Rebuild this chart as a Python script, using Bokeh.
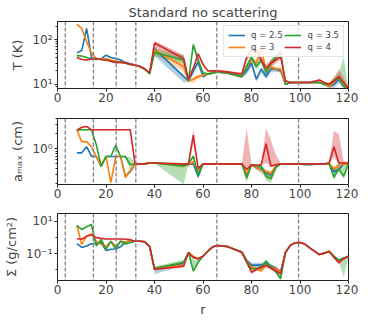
import numpy as np
from bokeh.plotting import figure
from bokeh.models import Range1d, FixedTicker, Span, Legend, LegendItem
from bokeh.layouts import column
from bokeh.embed import file_html
from bokeh.resources import INLINE

# ---------------- data ----------------
R = [8, 10, 12, 14, 16, 18, 20, 22,
     24, 26, 28, 30, 32, 34, 36, 38,
     40, 52, 54, 56, 58, 60, 62, 64,
     66, 70, 76, 78, 80, 82, 84, 86,
     88, 90, 92, 94, 96, 98, 100, 102,
     104, 108, 110, 112, 114, 116, 118, 120]

Q_LABELS = ["q = 2.5", "q = 3", "q = 3.5", "q = 4"]
GAPS = [3.2, 14.8, 24.2, 32.3, 65.7, 99.4]
X_TICKS = [0, 20, 40, 60, 80, 100, 120]

# Temperature (K)
T_blue = [51, 57, 178, 40, 36, 37, 45, 40,
          38, 35, 31, 29, 27, 25, 22, 18,
          62, 15, 12, 20, 32, 15, 17, 18,
          19, 18, 15, 20, 30, 13, 22, 15,
          22, 22, 20, 10, 11, 11, 11, 11,
          11, 11, 10, 9, 10, 13, 9, 8]
T_orange = [219, 178, 90, 50, 38, 36, 38, 35,
            33, 32, 30, 28, 27, 25, 22, 18,
            58, 25, 12, 13, 15, 16, 17, 18,
            19, 18, 15, 25, 35, 30, 65, 20,
            25, 22, 22, 10, 11, 11, 11, 11,
            11, 11, 10, 9, 11, 15, 10, 8]
T_green = [44, 43, 40, 37, 38, 36, 35, 33,
           31, 31, 30, 28, 27, 25, 22, 17,
           52, 35, 12, 78, 35, 18, 17, 18,
           19, 18, 15, 25, 40, 25, 35, 18,
           30, 40, 55, 10, 11, 11, 11, 11,
           11, 11, 10, 10, 12, 14, 9, 8]
T_red = [40, 36, 35, 37, 38, 36, 35, 33,
         31, 31, 30, 28, 27, 25, 22, 18,
         84, 38, 13, 23, 48, 28, 20, 20,
         20, 19, 17, 40, 59, 59, 35, 23,
         30, 35, 42, 12, 11, 11, 11, 11,
         11, 12.5, 11, 10, 12, 15, 11, 8]
# band factors (lower = value / lo, upper = value * hi)
T_blue_lo = [1.02]*16 + [1.45, 1.35, 1.08, 1.2, 1.25, 1.1, 1.05, 1.05] + [1.05, 1.05, 1.08, 1.2, 1.25, 1.15, 1.2, 1.15] + [1.2, 1.15, 1.1, 1.05, 1.04, 1.04, 1.04, 1.04] + [1.04, 1.04, 1.05, 1.1, 1.2, 1.25, 1.1, 1.04]
T_blue_hi = [1.02]*16 + [1.1, 1.1, 1.05, 1.1, 1.1, 1.05, 1.05, 1.05] + [1.05, 1.05, 1.08, 1.1, 1.1, 1.1, 1.1, 1.1] + [1.1, 1.1, 1.1, 1.05, 1.04, 1.04, 1.04, 1.04] + [1.04, 1.04, 1.05, 1.1, 1.1, 1.1, 1.1, 1.04]
T_orange_lo = [1.02]*16 + [1.25, 1.3, 1.08, 1.2, 1.15, 1.1, 1.05, 1.05] + [1.05, 1.05, 1.08, 1.2, 1.2, 1.2, 1.25, 1.2] + [1.2, 1.15, 1.1, 1.05, 1.04, 1.04, 1.04, 1.04] + [1.04, 1.04, 1.05, 1.1, 1.15, 1.2, 1.1, 1.04]
T_orange_hi = [1.02]*16 + [1.2, 1.25, 1.05, 1.1, 1.1, 1.05, 1.05, 1.05] + [1.05, 1.05, 1.08, 1.15, 1.15, 1.15, 1.1, 1.15] + [1.15, 1.1, 1.1, 1.05, 1.04, 1.04, 1.04, 1.04] + [1.04, 1.04, 1.05, 1.1, 1.1, 1.1, 1.1, 1.04]
T_green_lo = [1.02]*16 + [1.2, 1.2, 1.08, 1.2, 1.25, 1.1, 1.05, 1.05] + [1.05, 1.05, 1.08, 1.2, 1.2, 1.2, 1.2, 1.2] + [1.2, 1.2, 1.15, 1.05, 1.04, 1.04, 1.04, 1.04] + [1.04, 1.04, 1.05, 1.1, 1.1, 1.1, 1.05, 1.04]
T_green_hi = [1.02]*16 + [1.2, 1.3, 1.05, 1.05, 1.2, 1.1, 1.05, 1.05] + [1.05, 1.05, 1.08, 1.2, 1.2, 1.2, 1.2, 1.2] + [1.2, 1.2, 1.1, 1.05, 1.04, 1.04, 1.04, 1.04] + [1.04, 1.04, 1.05, 1.1, 1.2, 1.3, 4.5, 1.04]
T_red_lo = [1.02]*16 + [1.25, 1.2, 1.08, 1.1, 1.1, 1.1, 1.05, 1.05] + [1.05, 1.05, 1.08, 1.2, 1.25, 1.3, 1.15, 1.15] + [1.2, 1.2, 1.15, 1.05, 1.04, 1.04, 1.04, 1.04] + [1.04, 1.04, 1.05, 1.1, 1.15, 1.3, 1.15, 1.04]
T_red_hi = [1.02]*16 + [1.12, 1.2, 1.05, 1.1, 1.1, 1.1, 1.05, 1.05] + [1.05, 1.05, 1.08, 1.15, 1.15, 1.15, 1.2, 1.2] + [1.2, 1.2, 1.15, 1.05, 1.04, 1.04, 1.04, 1.04] + [1.04, 1.04, 1.05, 1.1, 1.15, 1.45, 1.3, 1.04]

# Maximum grain size (cm)
A_blue = [0.83, 0.83, 1.1, 0.71, 0.7, 0.45, 0.7, 0.7,
          0.7, 0.7, 0.28, 0.35, 0.48, 0.5, 0.5, 0.52,
          0.52, 0.48, 0.48, 0.5, 0.28, 0.5, 0.5, 0.5,
          0.5, 0.5, 0.5, 0.3, 0.48, 0.42, 0.4, 0.33,
          0.3, 0.45, 0.5, 0.5, 0.5, 0.5, 0.5, 0.48,
          0.48, 0.5, 0.5, 0.5, 0.35, 0.38, 0.5, 0.5]
A_orange = [2.35, 1.38, 1.4, 1.1, 0.7, 0.45, 0.7, 0.21,
            0.7, 0.7, 0.27, 0.37, 0.48, 0.5, 0.5, 0.52,
            0.52, 0.46, 0.48, 0.55, 0.35, 0.5, 0.5, 0.5,
            0.5, 0.5, 0.5, 0.32, 0.48, 0.42, 0.38, 0.35,
            0.32, 0.45, 0.5, 0.5, 0.5, 0.5, 0.5, 0.5,
            0.5, 0.5, 0.5, 0.5, 0.4, 0.45, 0.5, 0.5]
A_green = [2.35, 2.4, 2.4, 2.4, 1.2, 0.45, 0.7, 0.7,
           1.18, 0.7, 0.7, 0.48, 0.5, 0.5, 0.5, 0.52,
           0.52, 0.45, 0.5, 0.71, 0.3, 0.5, 0.5, 0.5,
           0.5, 0.5, 0.5, 0.26, 0.48, 0.46, 0.45, 0.28,
           0.25, 0.42, 0.5, 0.5, 0.5, 0.5, 0.5, 0.5,
           0.5, 0.5, 0.5, 0.5, 0.27, 0.4, 0.28, 0.5]
A_red = [2.35, 2.7, 2.8, 2.4, 2.4, 2.4, 2.4, 2.4,
         2.4, 2.4, 2.4, 2.4, 0.5, 0.5, 0.5, 0.52,
         0.52, 0.5, 0.5, 1.87, 0.4, 0.5, 0.5, 0.5,
         0.5, 0.5, 0.5, 0.385, 0.48, 0.47, 0.48, 1.26,
         0.45, 0.48, 0.5, 0.5, 0.5, 0.5, 0.5, 0.5,
         0.5, 0.5, 0.5, 0.52, 1.1, 0.52, 0.52, 0.52]
A_blue_lo = [1.02]*16 + [1.03, 1.05, 1.03, 1.05, 1.1, 1.03, 1.03, 1.03] + [1.03, 1.03, 1.03, 1.2, 1.05, 1.1, 1.15, 1.2] + [1.2, 1.1, 1.03, 1.03, 1.03, 1.03, 1.03, 1.03] + [1.03, 1.03, 1.03, 1.03, 1.2, 1.1, 1.03, 1.03]
A_blue_hi = [1.02]*16 + [1.03, 1.05, 1.03, 1.05, 1.05, 1.03, 1.03, 1.03] + [1.03, 1.03, 1.03, 1.1, 1.05, 1.05, 1.1, 1.1] + [1.1, 1.05, 1.03, 1.03, 1.03, 1.03, 1.03, 1.03] + [1.03, 1.03, 1.03, 1.03, 1.1, 1.1, 1.03, 1.03]
A_orange_lo = [1.02]*10 + [1.1, 1.1, 1.05, 1.03, 1.03, 1.03] + [1.03, 1.1, 1.03, 1.05, 1.1, 1.03, 1.03, 1.03] + [1.03, 1.03, 1.03, 1.15, 1.05, 1.1, 1.2, 1.2] + [1.2, 1.1, 1.03, 1.03, 1.03, 1.03, 1.03, 1.03] + [1.03, 1.03, 1.03, 1.03, 1.15, 1.1, 1.03, 1.03]
A_orange_hi = [1.02]*10 + [1.1, 1.1, 1.05, 1.03, 1.03, 1.03] + [1.03, 1.05, 1.03, 1.05, 1.05, 1.03, 1.03, 1.03] + [1.03, 1.03, 1.03, 1.1, 1.05, 1.05, 1.1, 1.1] + [1.1, 1.05, 1.03, 1.03, 1.03, 1.03, 1.03, 1.03] + [1.03, 1.03, 1.03, 1.03, 1.1, 1.1, 1.03, 1.03]
A_green_lo = [1.02]*8 + [1.03, 1.03, 1.1, 1.3, 1.05, 1.03, 1.03, 1.03] + [1.02, 2.3, 1.03, 1.05, 1.2, 1.03, 1.03, 1.03] + [1.03, 1.03, 1.03, 1.25, 1.05, 1.05, 1.1, 1.2] + [1.2, 1.1, 1.03, 1.03, 1.03, 1.03, 1.03, 1.03] + [1.03, 1.03, 1.03, 1.03, 1.15, 1.1, 1.1, 1.03]
A_green_hi = [1.02]*8 + [1.03, 1.03, 1.05, 1.4, 1.1, 1.03, 1.03, 1.03] + [1.03, 1.05, 1.03, 1.05, 1.1, 1.03, 1.03, 1.03] + [1.03, 1.03, 1.03, 1.3, 1.05, 1.05, 1.1, 1.3] + [1.4, 1.1, 1.03, 1.03, 1.03, 1.03, 1.03, 1.03] + [1.03, 1.03, 1.03, 1.1, 1.5, 1.4, 1.8, 1.15]
A_red_lo = [1.02]*16 + [1.03, 1.03, 1.03, 1.5, 1.1, 1.03, 1.03, 1.03] + [1.03, 1.03, 1.03, 1.05, 1.03, 1.03, 1.03, 2.4] + [1.03]*8 + [1.03, 1.03, 1.03, 1.03, 1.6, 1.03, 1.03, 1.03]
A_red_hi = [1.02]*16 + [1.03, 1.03, 1.03, 1.35, 1.1, 1.03, 1.03, 1.03] + [1.03, 1.03, 1.03, 6.7, 1.03, 1.03, 1.03, 2.05] + [3.3, 1.6, 1.03, 1.03, 1.03, 1.03, 1.03, 1.03] + [1.03, 1.03, 1.03, 1.03, 2.1, 3.8, 1.1, 1.03]

# Surface density (g/cm^2)
S_blue = [0.42, 0.25, 0.3, 0.42, 0.45, 0.5, 0.16, 0.19,
          0.2, 0.27, 0.55, 0.6, 0.6, 0.6, 0.55, 0.28,
          0.012, 0.025, 0.12, 0.06, 0.05, 0.07, 0.145, 0.27,
          0.32, 0.28, 0.13, 0.04, 0.02, 0.02, 0.02, 0.028,
          0.018, 0.013, 0.008, 0.12, 0.33, 0.48, 0.5, 0.4,
          0.23, 0.09, 0.11, 0.145, 0.07, 0.04, 0.05, 0.07]
S_orange = [5.6, 0.38, 1.23, 1.7, 0.6, 0.38, 0.28, 0.6,
            0.28, 0.6, 0.55, 0.6, 0.6, 0.6, 0.55, 0.28,
            0.012, 0.02, 0.12, 0.07, 0.05, 0.07, 0.145, 0.27,
            0.32, 0.28, 0.13, 0.035, 0.015, 0.012, 0.009, 0.02,
            0.015, 0.012, 0.007, 0.12, 0.33, 0.48, 0.5, 0.4,
            0.23, 0.09, 0.11, 0.15, 0.07, 0.035, 0.05, 0.07]
S_green = [5.6, 3.2, 4.7, 6.5, 0.3, 0.77, 0.19, 0.6,
           0.2, 0.6, 0.4, 0.5, 0.6, 0.6, 0.55, 0.28,
           0.012, 0.03, 0.12, 0.0085, 0.03, 0.07, 0.145, 0.27,
           0.32, 0.28, 0.13, 0.035, 0.012, 0.012, 0.014, 0.035,
           0.015, 0.008, 0.0028, 0.12, 0.33, 0.48, 0.5, 0.4,
           0.23, 0.09, 0.11, 0.14, 0.07, 0.04, 0.055, 0.07]
S_red = [0.85, 0.8, 1.2, 1.5, 1.0, 0.9, 0.82, 0.82,
         0.82, 0.82, 0.8, 0.75, 0.6, 0.6, 0.55, 0.28,
         0.011, 0.017, 0.12, 0.06, 0.05, 0.07, 0.145, 0.27,
         0.32, 0.28, 0.12, 0.03, 0.0073, 0.011, 0.015, 0.02,
         0.013, 0.009, 0.006, 0.12, 0.33, 0.48, 0.5, 0.4,
         0.23, 0.09, 0.11, 0.14, 0.06, 0.028, 0.05, 0.07]
S_blue_lo = [1.03]*16 + [2.2, 1.3, 1.05, 1.1, 1.1, 1.05, 1.05, 1.05] + [1.05, 1.05, 1.1, 1.2, 1.3, 1.3, 1.3, 1.3] + [1.3, 1.3, 1.2, 1.05, 1.05, 1.05, 1.05, 1.05] + [1.05, 1.05, 1.05, 1.05, 1.1, 1.2, 1.1, 1.05]
S_blue_hi = [1.03]*16 + [1.2, 1.15, 1.05, 1.1, 1.1, 1.05, 1.05, 1.05] + [1.05, 1.05, 1.1, 1.2, 1.4, 1.4, 1.4, 1.3] + [1.3, 1.3, 1.2, 1.05, 1.05, 1.05, 1.05, 1.05] + [1.05, 1.05, 1.05, 1.05, 1.1, 1.2, 1.1, 1.05]
S_orange_lo = [1.03]*16 + [1.4, 1.4, 1.05, 1.1, 1.1, 1.05, 1.05, 1.05] + [1.05, 1.05, 1.1, 1.2, 1.3, 1.3, 1.3, 1.3] + [1.3, 1.3, 1.2, 1.05, 1.05, 1.05, 1.05, 1.05] + [1.05, 1.05, 1.05, 1.05, 1.1, 1.2, 1.1, 1.05]
S_orange_hi = [1.03]*16 + [1.4, 1.4, 1.05, 1.1, 1.1, 1.05, 1.05, 1.05] + [1.05, 1.05, 1.1, 1.2, 1.3, 1.3, 1.3, 1.3] + [1.3, 1.3, 1.2, 1.05, 1.05, 1.05, 1.05, 1.05] + [1.05, 1.05, 1.05, 1.05, 1.1, 1.2, 1.1, 1.05]
S_green_lo = [1.03]*8 + [1.03, 1.03, 1.1, 1.1, 1.05, 1.03, 1.03, 1.03] + [1.1, 1.05, 1.05, 1.2, 1.2, 1.05, 1.05, 1.05] + [1.05, 1.05, 1.1, 1.2, 1.3, 1.3, 1.3, 1.3] + [1.3, 1.3, 1.2, 1.05, 1.05, 1.05, 1.05, 1.05] + [1.05, 1.05, 1.05, 1.05, 1.1, 1.2, 15, 1.05]
S_green_hi = [1.03]*8 + [1.03, 1.03, 1.5, 1.6, 1.1, 1.03, 1.03, 1.03] + [1.3, 1.5, 1.05, 5.0, 1.5, 1.05, 1.05, 1.05] + [1.05, 1.05, 1.1, 1.2, 1.3, 1.3, 1.3, 1.3] + [1.3, 1.3, 1.8, 1.05, 1.05, 1.05, 1.05, 1.05] + [1.05, 1.05, 1.05, 1.05, 1.1, 1.2, 1.1, 1.05]
S_red_lo = [1.03]*16 + [1.1, 1.1, 1.05, 1.1, 1.1, 1.05, 1.05, 1.05] + [1.05, 1.05, 1.1, 1.3, 1.3, 1.3, 1.3, 1.3] + [1.3, 1.3, 1.3, 1.05, 1.05, 1.05, 1.05, 1.05] + [1.05, 1.05, 1.05, 1.05, 1.1, 1.3, 1.1, 1.05]
S_red_hi = [1.03]*16 + [1.1, 1.1, 1.05, 1.1, 1.1, 1.05, 1.05, 1.05] + [1.05, 1.05, 1.1, 1.2, 1.2, 1.2, 1.2, 1.2] + [1.2, 1.2, 1.2, 1.05, 1.05, 1.05, 1.05, 1.05] + [1.05, 1.05, 1.05, 1.05, 1.1, 1.2, 1.1, 1.05]

# ---------------- style ----------------
COLORS = ["#1f77b4", "#ff7f0e", "#2ca02c", "#d62728"]
FONT = "DejaVu Sans"


def make_panel(ylabel, yr, yticks, yminor, ylabels, series, bands,
               b_top, b_bottom, frame_h, title=None, xlabel=None):
    kw = dict(title=title) if title else {}
    p = figure(frame_width=291, frame_height=frame_h, y_axis_type="log",
               x_range=Range1d(0, 120), y_range=Range1d(*yr),
               min_border_left=57, min_border_right=10,
               min_border_top=b_top, min_border_bottom=b_bottom,
               output_backend="svg", toolbar_location=None, **kw)
    p.grid.visible = False
    p.outline_line_color = "#222222"
    p.outline_line_width = 1
    p.background_fill_color = "white"
    p.border_fill_color = "white"
    if title:
        p.title.text_font = FONT
        p.title.text_font_size = "13px"
        p.title.text_font_style = "normal"
        p.title.align = "center"
        p.title.standoff = 3
    for ax in (p.xaxis[0], p.yaxis[0]):
        ax.axis_line_color = "#222222"
        ax.major_tick_line_color = "#222222"
        ax.minor_tick_line_color = "#222222"
        ax.major_tick_out = 3
        ax.major_tick_in = 0
        ax.minor_tick_out = 2
        ax.minor_tick_in = 0
        ax.major_label_text_font = FONT
        ax.major_label_text_font_size = "12px"
        ax.axis_label_text_font = FONT
        ax.axis_label_text_font_size = "13px"
        ax.axis_label_text_font_style = "normal"
    p.xaxis.ticker = FixedTicker(ticks=X_TICKS)
    p.xaxis.major_label_standoff = 1
    if xlabel:
        p.xaxis.axis_label = xlabel
        p.xaxis.axis_label_standoff = 5
    p.yaxis.ticker = FixedTicker(ticks=yticks, minor_ticks=yminor)
    p.yaxis.major_label_overrides = {t: l for t, l in zip(yticks, ylabels)}
    p.yaxis.major_label_standoff = 2
    p.yaxis.axis_label = ylabel
    p.yaxis.axis_label_standoff = 4

    for g in GAPS:
        p.add_layout(Span(location=g, dimension="height", line_color="#808080",
                          line_dash="4 2", line_width=1.3))
    x = np.array(R, dtype=float)
    renderers = []
    for vals, (lo, hi), c in zip(series, bands, COLORS):
        v = np.array(vals, dtype=float)
        p.varea(x=x, y1=v / np.array(lo), y2=v * np.array(hi),
                fill_color=c, fill_alpha=0.35)
    for vals, c in zip(series, COLORS):
        r = p.line(x=x, y=np.array(vals, dtype=float), line_color=c, line_width=1.6)
        renderers.append(r)
    return p, renderers


T_MINOR = [9] + [k * 10 for k in range(2, 10)] + [200]
A_MINOR = [k / 10 for k in range(2, 10)] + [2, 3, 4]
S_MINOR = [0.01, 1.0]

p1, r1 = make_panel("T (K)", (8.07, 255), [10, 100], T_MINOR, ["10¹", "10²"],
                    [T_blue, T_orange, T_green, T_red],
                    [(T_blue_lo, T_blue_hi), (T_orange_lo, T_orange_hi),
                     (T_green_lo, T_green_hi), (T_red_lo, T_red_hi)],
                    21, 22, 67, title="Standard no scattering")
legend = Legend(items=[LegendItem(label=l, renderers=[r]) for l, r in zip(Q_LABELS, r1)],
                location="top_right", ncols=2)
legend.label_text_font = FONT
legend.label_text_font_size = "8.5px"
legend.glyph_width = 17
legend.glyph_height = 8
legend.label_height = 8
legend.label_standoff = 6
legend.spacing = 2
legend.padding = 4
legend.margin = 4
legend.border_line_color = "#cccccc"
legend.background_fill_alpha = 0.85
p1.add_layout(legend)

p2, _ = make_panel("aₘₐₓ (cm)", (0.193, 4.04), [1.0], A_MINOR, ["10⁰"],
                   [A_blue, A_orange, A_green, A_red],
                   [(A_blue_lo, A_blue_hi), (A_orange_lo, A_orange_hi),
                    (A_green_lo, A_green_hi), (A_red_lo, A_red_hi)],
                   8, 22, 66)
p3, _ = make_panel("Σ (g/cm²)", (0.00224, 31), [0.1, 10], S_MINOR, ["10⁻¹", "10¹"],
                   [S_blue, S_orange, S_green, S_red],
                   [(S_blue_lo, S_blue_hi), (S_orange_lo, S_orange_hi),
                    (S_green_lo, S_green_hi), (S_red_lo, S_red_hi)],
                   7, 30, 67, xlabel="r")

layout = column(p1, p2, p3, spacing=0)
open("out.html", "w").write(file_html(layout, INLINE))
